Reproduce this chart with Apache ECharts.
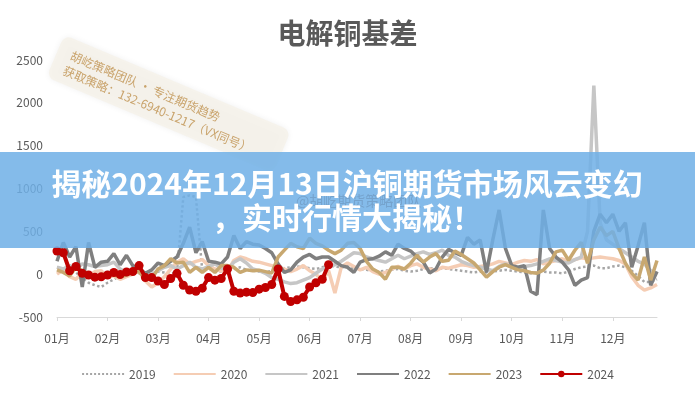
<!DOCTYPE html>
<html><head><meta charset="utf-8">
<script src="https://cdn.jsdelivr.net/npm/echarts@6/dist/echarts.min.js"></script>
<style>html,body{margin:0;padding:0;background:#fff}#c{width:695px;height:400px}</style>
</head><body><div id="c"></div>
<script>
const titleText = '电解铜基差';
const months = ['01月','02月','03月','04月','05月','06月','07月','08月','09月','10月','11月','12月'];
const pointsPerMonth = 8;
const yMin = -500, yMax = 2500, yStep = 500;
const seriesNames = ['2019','2020','2021','2022','2023','2024'];

const s2019 = [80,60,40,20,-40,-100,-130,-150,-100,-60,
  -20,0,20,10,-20,0,30,20,10,20,
  900,920,900,40,60,50,30,40,60,80,
  50,40,30,20,40,60,70,80,90,80,
  70,60,80,100,90,80,90,70,60,50,
  40,30,40,50,60,40,30,40,60,70,
  60,70,60,50,40,30,20,30,20,30,
  40,50,40,30,20,10,20,30,20,20,
  10,30,60,80,90,100,70,70,90,100,
  80,40,-20,-90,-90,-60];
const s2020 = [0,50,-30,-60,20,-20,30,40,-40,-20,
  -60,-30,0,40,-80,-150,-100,-30,60,140,
  180,120,150,170,100,60,40,30,160,200,
  180,150,140,120,100,80,60,30,60,100,
  40,0,-80,40,-220,80,130,90,50,80,
  30,0,20,60,90,60,100,120,80,60,
  40,80,70,90,110,100,80,90,100,120,
  150,130,110,140,160,150,170,120,140,160,
  180,150,170,190,180,190,200,190,180,160,
  120,-30,-130,-186,-160,-120];
const s2021 = [80,60,100,60,120,110,90,100,110,140,
  60,20,40,30,-20,0,40,80,100,60,
  100,140,80,60,90,120,70,50,140,180,
  130,60,40,10,-40,-60,-90,-110,-100,-70,
  -40,10,60,90,110,150,200,250,240,200,
  180,160,140,180,220,180,210,240,260,230,
  250,280,220,200,150,120,100,80,60,40,
  90,120,80,60,90,100,120,150,180,160,
  140,130,170,200,500,2200,600,400,350,300,
  250,200,150,120,40,10];
const s2022 = [150,370,200,320,-150,370,80,140,150,240,
  110,220,100,60,10,50,130,100,150,200,
  360,550,250,380,150,140,120,200,450,300,
  380,350,340,300,250,120,20,50,140,200,
  230,180,200,200,150,100,80,20,140,170,
  180,210,260,220,350,300,270,200,140,15,
  60,200,290,250,220,430,350,400,20,400,
  750,300,100,80,100,-200,-240,750,300,200,
  140,50,-130,-70,-40,500,700,600,700,500,
  600,80,330,600,-130,30];
const s2023 = [50,20,-20,80,40,0,-30,-20,20,-10,
  -30,-10,20,30,-60,-50,60,100,180,130,
  140,20,80,20,80,20,100,100,80,20,
  50,40,47,30,12,200,280,360,320,300,
  420,360,330,280,240,280,360,370,300,150,
  60,20,-60,80,81,60,128,221,140,200,
  240,150,163,270,230,180,130,50,-35,30,
  81,110,80,50,40,20,12,47,128,260,
  280,163,279,372,128,400,550,450,500,300,
  128,12,-70,200,-70,160];
const s2024 = [270,250,40,90,10,-10,-35,-30,-10,20,
  -5,25,30,100,-40,-40,-80,-120,-50,10,
  -130,-186,-200,-163,-40,-70,-50,60,-200,-221,
  -210,-215,-175,-155,-120,60,-260,-320,-300,-270,
  -150,-100,-60,110];

const bannerLine1 = '揭秘2024年12月13日沪铜期货市场风云变幻';
const bannerLine2 = '，实时行情大揭秘！';
const wmLine1 = '胡屹策略团队 · 专注期货趋势';
const wmLine2 = '获取策略：132-6940-1217（VX同号）';
const wmWeibo = '@胡屹期货策略团队';

const categories = [];
months.forEach(m => { for (let k = 0; k < pointsPerMonth; k++) categories.push(m + '|' + k); });

const FONT = "'Noto Sans CJK SC', 'Liberation Sans', sans-serif";
const styles = {
  '2019': {color:'#a6a6a6', width:2.5, type:'dotted'},
  '2020': {color:'#f5cdb4', width:3.5, type:'solid'},
  '2021': {color:'#c6c6c6', width:3.5, type:'solid'},
  '2022': {color:'#7f7f7f', width:3.5, type:'solid'},
  '2023': {color:'#c8a870', width:3.5, type:'solid'},
  '2024': {color:'#c00000', width:4, type:'solid'}
};
const dataMap = {'2019':s2019,'2020':s2020,'2021':s2021,'2022':s2022,'2023':s2023,'2024':s2024};

const series = seriesNames.map((n, idx) => {
  const st = styles[n];
  const is24 = n === '2024';
  return {
    name: n, type: 'line', xAxisIndex: 0, yAxisIndex: 0,
    data: dataMap[n],
    symbol: 'circle',
    symbolSize: is24 ? 9 : 0,
    showSymbol: is24,
    showAllSymbol: true,
    itemStyle: {color: st.color},
    lineStyle: {color: st.color, width: st.width, type: st.type},
    z: 2 + idx,
    silent: true,
    animation: false
  };
});

const legendData = seriesNames.map(n => n === '2024'
  ? {name: n}
  : {name: n, itemStyle: {opacity: 0, borderWidth: 0}});

const chart = echarts.init(document.getElementById('c'), null, {renderer: 'canvas'});
chart.setOption({
  animation: false,
  backgroundColor: '#fff',
  textStyle: {fontFamily: FONT},
  title: {
    text: titleText, left: 'center', top: 14,
    textStyle: {fontSize: 28, fontWeight: 'bold', color: '#595959', fontFamily: FONT}
  },
  legend: {
    data: legendData, left: 'center', top: 363,
    itemWidth: 42, itemHeight: 8, itemGap: 17,
    textStyle: {color: '#595959', fontSize: 12, fontFamily: FONT}
  },
  grid: {left: 57, right: 38, top: 60, bottom: 83, containLabel: false},
  xAxis: [{
    type: 'category', data: categories, boundaryGap: false,
    axisLine: {show: false}, axisTick: {show: false},
    axisLabel: {
      color: '#595959', fontSize: 12, margin: 15,
      interval: (i) => i % pointsPerMonth === 0,
      formatter: (v) => v.split('|')[0]
    },
    splitLine: {show: false}
  }, {
    type: 'category', data: categories, boundaryGap: false, position: 'bottom',
    axisLine: {show: true, onZero: true, lineStyle: {color: '#d9d9d9', width: 1}},
    axisTick: {show: true, interval: pointsPerMonth - 1, length: 4, lineStyle: {color: '#d9d9d9'}},
    axisLabel: {show: false}, splitLine: {show: false}
  }],
  yAxis: {
    type: 'value', min: yMin, max: yMax, interval: yStep,
    axisLine: {show: false}, axisTick: {show: false}, splitLine: {show: false},
    axisLabel: {color: '#595959', fontSize: 12, margin: 14, formatter: (v) => String(v)}
  },
  series: series.concat([{type:'line', xAxisIndex:1, data: [], silent:true}]),
  graphic: [
    {
      type: 'group', x: 71, y: 55, rotation: -0.40, z: 50,
      children: [
        {type:'rect', shape:{x:-14, y:-16, width:246, height:46, r:8},
         style:{fill:'rgba(246,242,232,0.75)', shadowBlur:6, shadowColor:'rgba(0,0,0,0.08)'}},
        {type:'text', x:0, y:0, style:{text: wmLine1, fill:'#c9a36b', font:"12px 'Noto Sans CJK SC'", textVerticalAlign:'middle'}},
        {type:'text', x:-1, y:16.5, style:{text: wmLine2, fill:'#c9a36b', font:"12px 'Noto Sans CJK SC'", textVerticalAlign:'middle'}}
      ]
    },
    {type:'rect', x:0, y:152, z:100, shape:{width:695, height:96},
     style:{fill:'rgba(110,175,230,0.85)'}},
    {type:'text', x:296, y:201, z:101,
     style:{text: wmWeibo, fill:'rgba(80,100,130,0.28)', font:"14px 'Noto Sans CJK SC'", textVerticalAlign:'middle'}},
    {type:'text', x:347, y:184, z:102,
     style:{text: bannerLine1, fill:'#ffffff', font:"bold 30px 'Noto Sans CJK SC'", textAlign:'center', textVerticalAlign:'middle'}},
    {type:'text', x:347, y:218, z:102,
     style:{text: bannerLine2, fill:'#ffffff', font:"bold 30px 'Noto Sans CJK SC'", textAlign:'center', textVerticalAlign:'middle'}}
  ]
});
</script>
</body></html>
